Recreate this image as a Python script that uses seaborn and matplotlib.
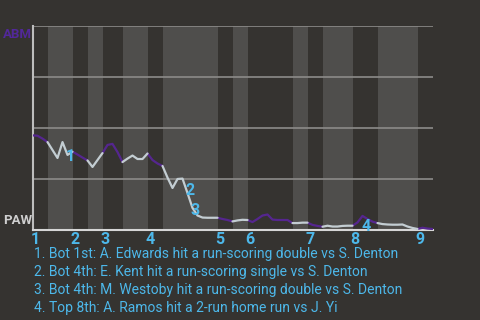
import matplotlib
matplotlib.use("Agg")
import matplotlib.pyplot as plt
import seaborn as sns
import pandas as pd
import numpy as np

# ---- data ----
# win probability for ABM after each play (0 = PAW wins, 1 = ABM wins)
win_prob = [0.464, 0.462, 0.448, 0.431, 0.392, 0.353, 0.431, 0.368, 0.384, 0.370,
            0.355, 0.341, 0.309, 0.343, 0.377, 0.417, 0.422, 0.382, 0.333, 0.350,
            0.365, 0.348, 0.348, 0.375, 0.343, 0.326, 0.314, 0.257, 0.206, 0.250,
            0.252, 0.181, 0.108, 0.071, 0.061, 0.060, 0.060, 0.060, 0.054, 0.049,
            0.042, 0.047, 0.050, 0.049, 0.039, 0.054, 0.071, 0.076, 0.051, 0.049,
            0.049, 0.049, 0.034, 0.034, 0.036, 0.036, 0.025, 0.020, 0.016, 0.021,
            0.017, 0.017, 0.020, 0.021, 0.021, 0.037, 0.069, 0.054, 0.041, 0.034,
            0.029, 0.027, 0.026, 0.026, 0.027, 0.017, 0.010, 0.005, 0.011, 0.007,
            0.005]
# play index where each half inning starts (last value = end of game)
half_starts = [0, 3, 8, 11, 14, 18, 23, 26, 37, 40, 43, 52, 55, 58, 64, 69, 77, 80]
inning_labels = ["1", "2", "3", "4", "5", "6", "7", "8", "9"]
team_top = "ABM"
team_bottom = "PAW"
key_play_idx = [7, 31, 32, 66]
key_play_num = ["1", "2", "3", "4"]
key_play_text = [
    "1. Bot 1st: A. Edwards hit a run-scoring double vs S. Denton",
    "2. Bot 4th: E. Kent hit a run-scoring single vs S. Denton",
    "3. Bot 4th: M. Westoby hit a run-scoring double vs S. Denton",
    "4. Top 8th: A. Ramos hit a 2-run home run vs J. Yi",
]

# ---- styling ----
BG = "#353330"
BAND_LIGHT = "#4f4e4c"
GRID = "#8c8b89"
AXIS = "#d6d6d6"
PURPLE = "#55268f"
LIGHT = "#c3cdd2"
BLUE = "#4db8ea"

sns.set_theme(style="dark")
plt.rcParams["font.family"] = ["Roboto", "DejaVu Sans"]

fig = plt.figure(figsize=(4.8, 3.2), dpi=100, facecolor=BG)
ax = fig.add_axes([32.5 / 480, 1 - 230 / 320, 400 / 480, 204 / 320])
ax.set_facecolor(BG)

# half inning bands (bottom halves shaded lighter)
for k in range(len(half_starts) - 1):
    if k % 2 == 1:
        ax.axvspan(half_starts[k], half_starts[k + 1], color=BAND_LIGHT, lw=0, zorder=0)

# build segments per half inning
rows = []
for k in range(len(half_starts) - 1):
    a, b = half_starts[k], half_starts[k + 1]
    side = "top" if k % 2 == 0 else "bot"
    for i in range(a, b + 1):
        rows.append({"play": i, "wp": win_prob[i], "side": side, "seg": k})
df = pd.DataFrame(rows)

for yv in [0.25, 0.5, 0.75, 1.0]:
    ax.axhline(yv, color=GRID, lw=1.2, zorder=1)

sns.lineplot(data=df, x="play", y="wp", hue="side", units="seg", estimator=None,
             palette={"top": PURPLE, "bot": LIGHT}, lw=1.6, legend=False, ax=ax,
             zorder=3, sort=False)

ax.set_xlim(0, half_starts[-1])
ax.set_ylim(0, 1)
ax.set_xticks([])
ax.set_yticks([])
ax.set_xlabel("")
ax.set_ylabel("")
for s in ["top", "right"]:
    ax.spines[s].set_visible(False)
ax.spines["left"].set_color("#bdbdbd")
ax.spines["left"].set_linewidth(1.5)
ax.spines["bottom"].set_color(AXIS)
ax.spines["bottom"].set_linewidth(1.5)
ax.grid(False)

# team labels
fig.text(3 / 480, 1 - 27.5 / 320, team_top, color="#52289a", fontsize=9.5,
         fontweight="bold", ha="left", va="top")
fig.text(3 / 480, 1 - 227 / 320, team_bottom, color="#cfcfcf", fontsize=9.5,
         fontweight="bold", ha="left", va="bottom")

# inning labels at the start of each top half
for lab, k in zip(inning_labels, range(0, len(half_starts) - 1, 2)):
    ax.text(half_starts[k] + 0.5, -0.045, lab, color=BLUE, fontsize=11.5,
            fontweight="bold", ha="center", va="center", clip_on=False)

# key play markers
offs = [(0.6, -0.008), (0.5, 0.011), (0.6, -0.01), (0.7, -0.054)]
for idx, num, (dx, dy) in zip(key_play_idx, key_play_num, offs):
    ax.text(idx + dx, win_prob[idx] + dy, num, color=BLUE, fontsize=11.5,
            fontweight="bold", ha="center", va="center", zorder=4)

for j, t in enumerate(key_play_text):
    fig.text(34 / 480, 1 - (254 + 18 * j) / 320, t, color=BLUE, fontsize=10,
             ha="left", va="center")

fig.savefig("out.png", dpi=100, facecolor=BG)
